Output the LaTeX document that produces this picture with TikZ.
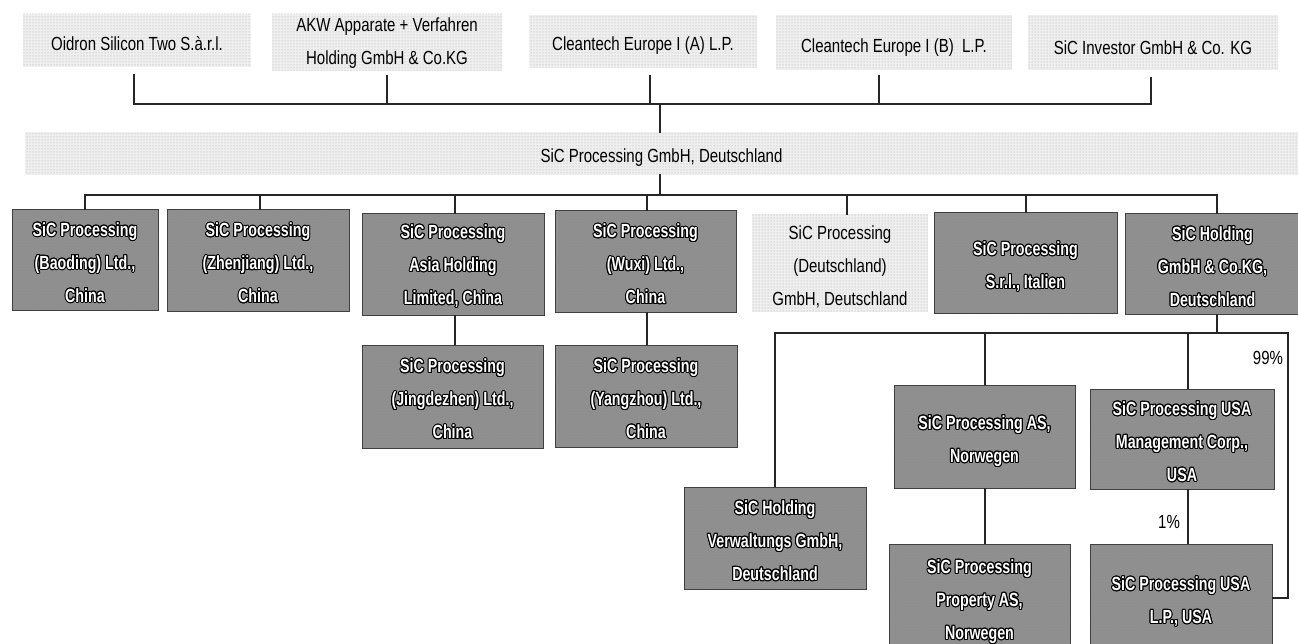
\documentclass[tikz,border=0pt]{standalone}
\usepackage{fontspec}
\usepackage[copies]{contour}
\setmainfont[FakeStretch=0.79]{Liberation Sans}
\newfontfamily\darkfont[FakeStretch=0.75]{Liberation Sans Bold}
\usetikzlibrary{patterns}
\contourlength{1pt}
\contournumber{16}
\newcommand{\cl}[1]{\contour{black}{#1}}
\definecolor{lightbox}{HTML}{EFEFEF}
\definecolor{darkbox}{HTML}{909090}
\tikzset{
  x=1pt,y=-1pt,
  lightnode/.style={align=center,inner sep=0pt,text=black,
    font=\fontsize{19}{33}\selectfont},
  darkshape/.style={draw=black!75,line width=1pt,inner sep=0pt},
  darktext/.style={align=center,inner sep=0pt,text=white,
    font=\darkfont\fontsize{19}{33}\selectfont},
  speck/.style={pattern=dots,pattern color=gray!70},
  speckdark/.style={pattern=crosshatch dots,pattern color=black!45},
  conn/.style={draw=black!85,line width=1.5pt,line cap=rect},
  pct/.style={inner sep=0pt,text=black,font=\fontsize{19}{20}\selectfont},
}
% name, x1, y1, x2, y2, text shift, text
\newcommand{\lbox}[7]{%
  \pgfmathsetmacro{\cx}{(#2+#4)/2}\pgfmathsetmacro{\cy}{(#3+#5)/2}%
  \pgfmathsetmacro{\ww}{#4-#2}\pgfmathsetmacro{\hh}{#5-#3}%
  \fill[lightbox] (#2,#3) rectangle (#4,#5);
  \fill[speck] (#2,#3) rectangle (#4,#5);
  \node[inner sep=0pt,minimum width=\ww pt,minimum height=\hh pt] (#1) at (\cx,\cy) {};
  \node[lightnode] (#1-t) at (\cx,\cy+#6) {#7};}
\newcommand{\dbox}[7]{%
  \pgfmathsetmacro{\cx}{(#2+#4)/2}\pgfmathsetmacro{\cy}{(#3+#5)/2}%
  \pgfmathsetmacro{\ww}{#4-#2}\pgfmathsetmacro{\hh}{#5-#3}%
  \fill[darkbox] (#2,#3) rectangle (#4,#5);
  \fill[speckdark] (#2,#3) rectangle (#4,#5);
  \node[darkshape,minimum width=\ww pt,minimum height=\hh pt] (#1) at (\cx,\cy) {};
  \node[darktext] (#1-t) at (\cx,\cy+#6) {#7};}
\begin{document}
\begin{tikzpicture}
\useasboundingbox (0,0) rectangle (1298,644);
\fill[white] (0,0) rectangle (1298,644);
% shareholders
\lbox{oidron}{23}{14}{251}{67}{3}{Oidron Silicon Two S.à.r.l.}
\lbox{akw}{272}{14}{502}{71}{1}{AKW Apparate + Verfahren\\Holding GmbH \& Co.KG}
\lbox{cta}{529}{15}{757}{68}{4}{Cleantech Europe I (A) L.P.}
\lbox{ctb}{776}{15}{1012}{70}{5}{Cleantech Europe I (B)\ \ L.P.}
\lbox{inv}{1028}{15}{1278}{70}{5}{SiC Investor GmbH \& Co. KG}
\lbox{main}{25}{132}{1298}{175}{4}{SiC Processing GmbH, Deutschland}
% row 1
\dbox{bao}{12}{210}{158}{310}{3}{\cl{SiC Processing}\\\cl{(Baoding) Ltd.,}\\\cl{China}}
\dbox{zhe}{167}{210}{349}{311}{3}{\cl{SiC Processing}\\\cl{(Zhenjiang) Ltd.,}\\\cl{China}}
\dbox{asia}{362}{214}{544}{315}{2}{\cl{SiC Processing}\\\cl{Asia Holding}\\\cl{Limited, China}}
\dbox{wuxi}{555}{211}{736}{312}{3}{\cl{SiC Processing}\\\cl{(Wuxi) Ltd.,}\\\cl{China}}
\lbox{deu}{752}{214}{928}{312}{4}{SiC Processing\\(Deutschland)\\GmbH, Deutschland}
\dbox{ita}{934}{213}{1117}{313}{4}{\cl{SiC Processing}\\\cl{S.r.l., Italien}}
\dbox{hold}{1125}{214}{1300}{314}{3}{\cl{SiC Holding}\\\cl{GmbH \& Co.KG,}\\\cl{Deutschland}}
% row 2
\dbox{jing}{362}{345}{543}{448}{3}{\cl{SiC Processing}\\\cl{(Jingdezhen) Ltd.,}\\\cl{China}}
\dbox{yang}{555}{345}{737}{447}{3}{\cl{SiC Processing}\\\cl{(Yangzhou) Ltd.,}\\\cl{China}}
% lower right
\dbox{verw}{684}{487}{866}{589}{3}{\cl{SiC Holding}\\\cl{Verwaltungs GmbH,}\\\cl{Deutschland}}
\dbox{nor}{894}{385}{1075}{488}{5}{\cl{SiC Processing AS,}\\\cl{Norwegen}}
\dbox{prop}{889}{544}{1070}{650}{5}{\cl{SiC Processing}\\\cl{Property AS,}\\\cl{Norwegen}}
\dbox{mgmt}{1090}{389}{1274}{489}{3}{\cl{SiC Processing USA}\\\cl{Management Corp.,}\\\cl{USA}}
\dbox{lp}{1090}{544}{1272}{650}{5}{\cl{SiC Processing USA}\\\cl{L.P., USA}}
% bus junction points
\coordinate (ja) at (134,104);
\coordinate (jb) at (387,104);
\coordinate (jc) at (650,104);
\coordinate (jd) at (879,104);
\coordinate (je) at (1151,104);
\coordinate (jt) at (660,104);
\coordinate (ka) at (85,195);
\coordinate (kb) at (260,195);
\coordinate (kc) at (455,195);
\coordinate (kd) at (647,195);
\coordinate (ke) at (847,195);
\coordinate (kf) at (1026,195);
\coordinate (kg) at (1217,195);
\coordinate (kt) at (660,195);
\coordinate (ma) at (775,333);
\coordinate (mb) at (985,333);
\coordinate (mc) at (1188,333);
\coordinate (md) at (1217,333);
\coordinate (me) at (1288,333);
\coordinate (mf) at (1288,598);
% top bus
\draw[conn] (ja) -- (je);
\draw[conn,shorten <=8pt] (ja |- oidron.south) -- (ja);
\draw[conn,shorten <=5pt] (jb |- akw.south) -- (jb);
\draw[conn,shorten <=8pt] (jc |- cta.south) -- (jc);
\draw[conn,shorten <=6pt] (jd |- ctb.south) -- (jd);
\draw[conn,shorten <=8pt] (je |- inv.south) -- (je);
\draw[conn] (jt) -- (jt |- main.north);
% second bus
\draw[conn] (jt |- main.south) -- (kt);
\draw[conn] (ka) -- (kg);
\draw[conn] (ka) -- (ka |- bao.north);
\draw[conn] (kb) -- (kb |- zhe.north);
\draw[conn] (kc) -- (kc |- asia.north);
\draw[conn] (kd) -- (kd |- wuxi.north);
\draw[conn] (ke) -- (ke |- deu.north);
\draw[conn] (kf) -- (kf |- ita.north);
\draw[conn] (kg) -- (kg |- hold.north);
\draw[conn] (kc |- asia.south) -- (kc |- jing.north);
\draw[conn] (kd |- wuxi.south) -- (kd |- yang.north);
% third bus
\draw[conn] (md |- hold.south) -- (md);
\draw[conn] (ma) -- (me) -- (mf) -- (mf -| lp.east);
\draw[conn] (ma) -- (ma |- verw.north);
\draw[conn] (mb) -- (mb |- nor.north);
\draw[conn] (mc) -- (mc |- mgmt.north);
\draw[conn] (mb |- nor.south) -- (mb |- prop.north);
\draw[conn] (mc |- mgmt.south) -- (mc |- lp.north);
\node[pct] (p99) at (1268,358) {99\%};
\node[pct] (p1) at (1169,522) {1\%};
\end{tikzpicture}
\end{document}
